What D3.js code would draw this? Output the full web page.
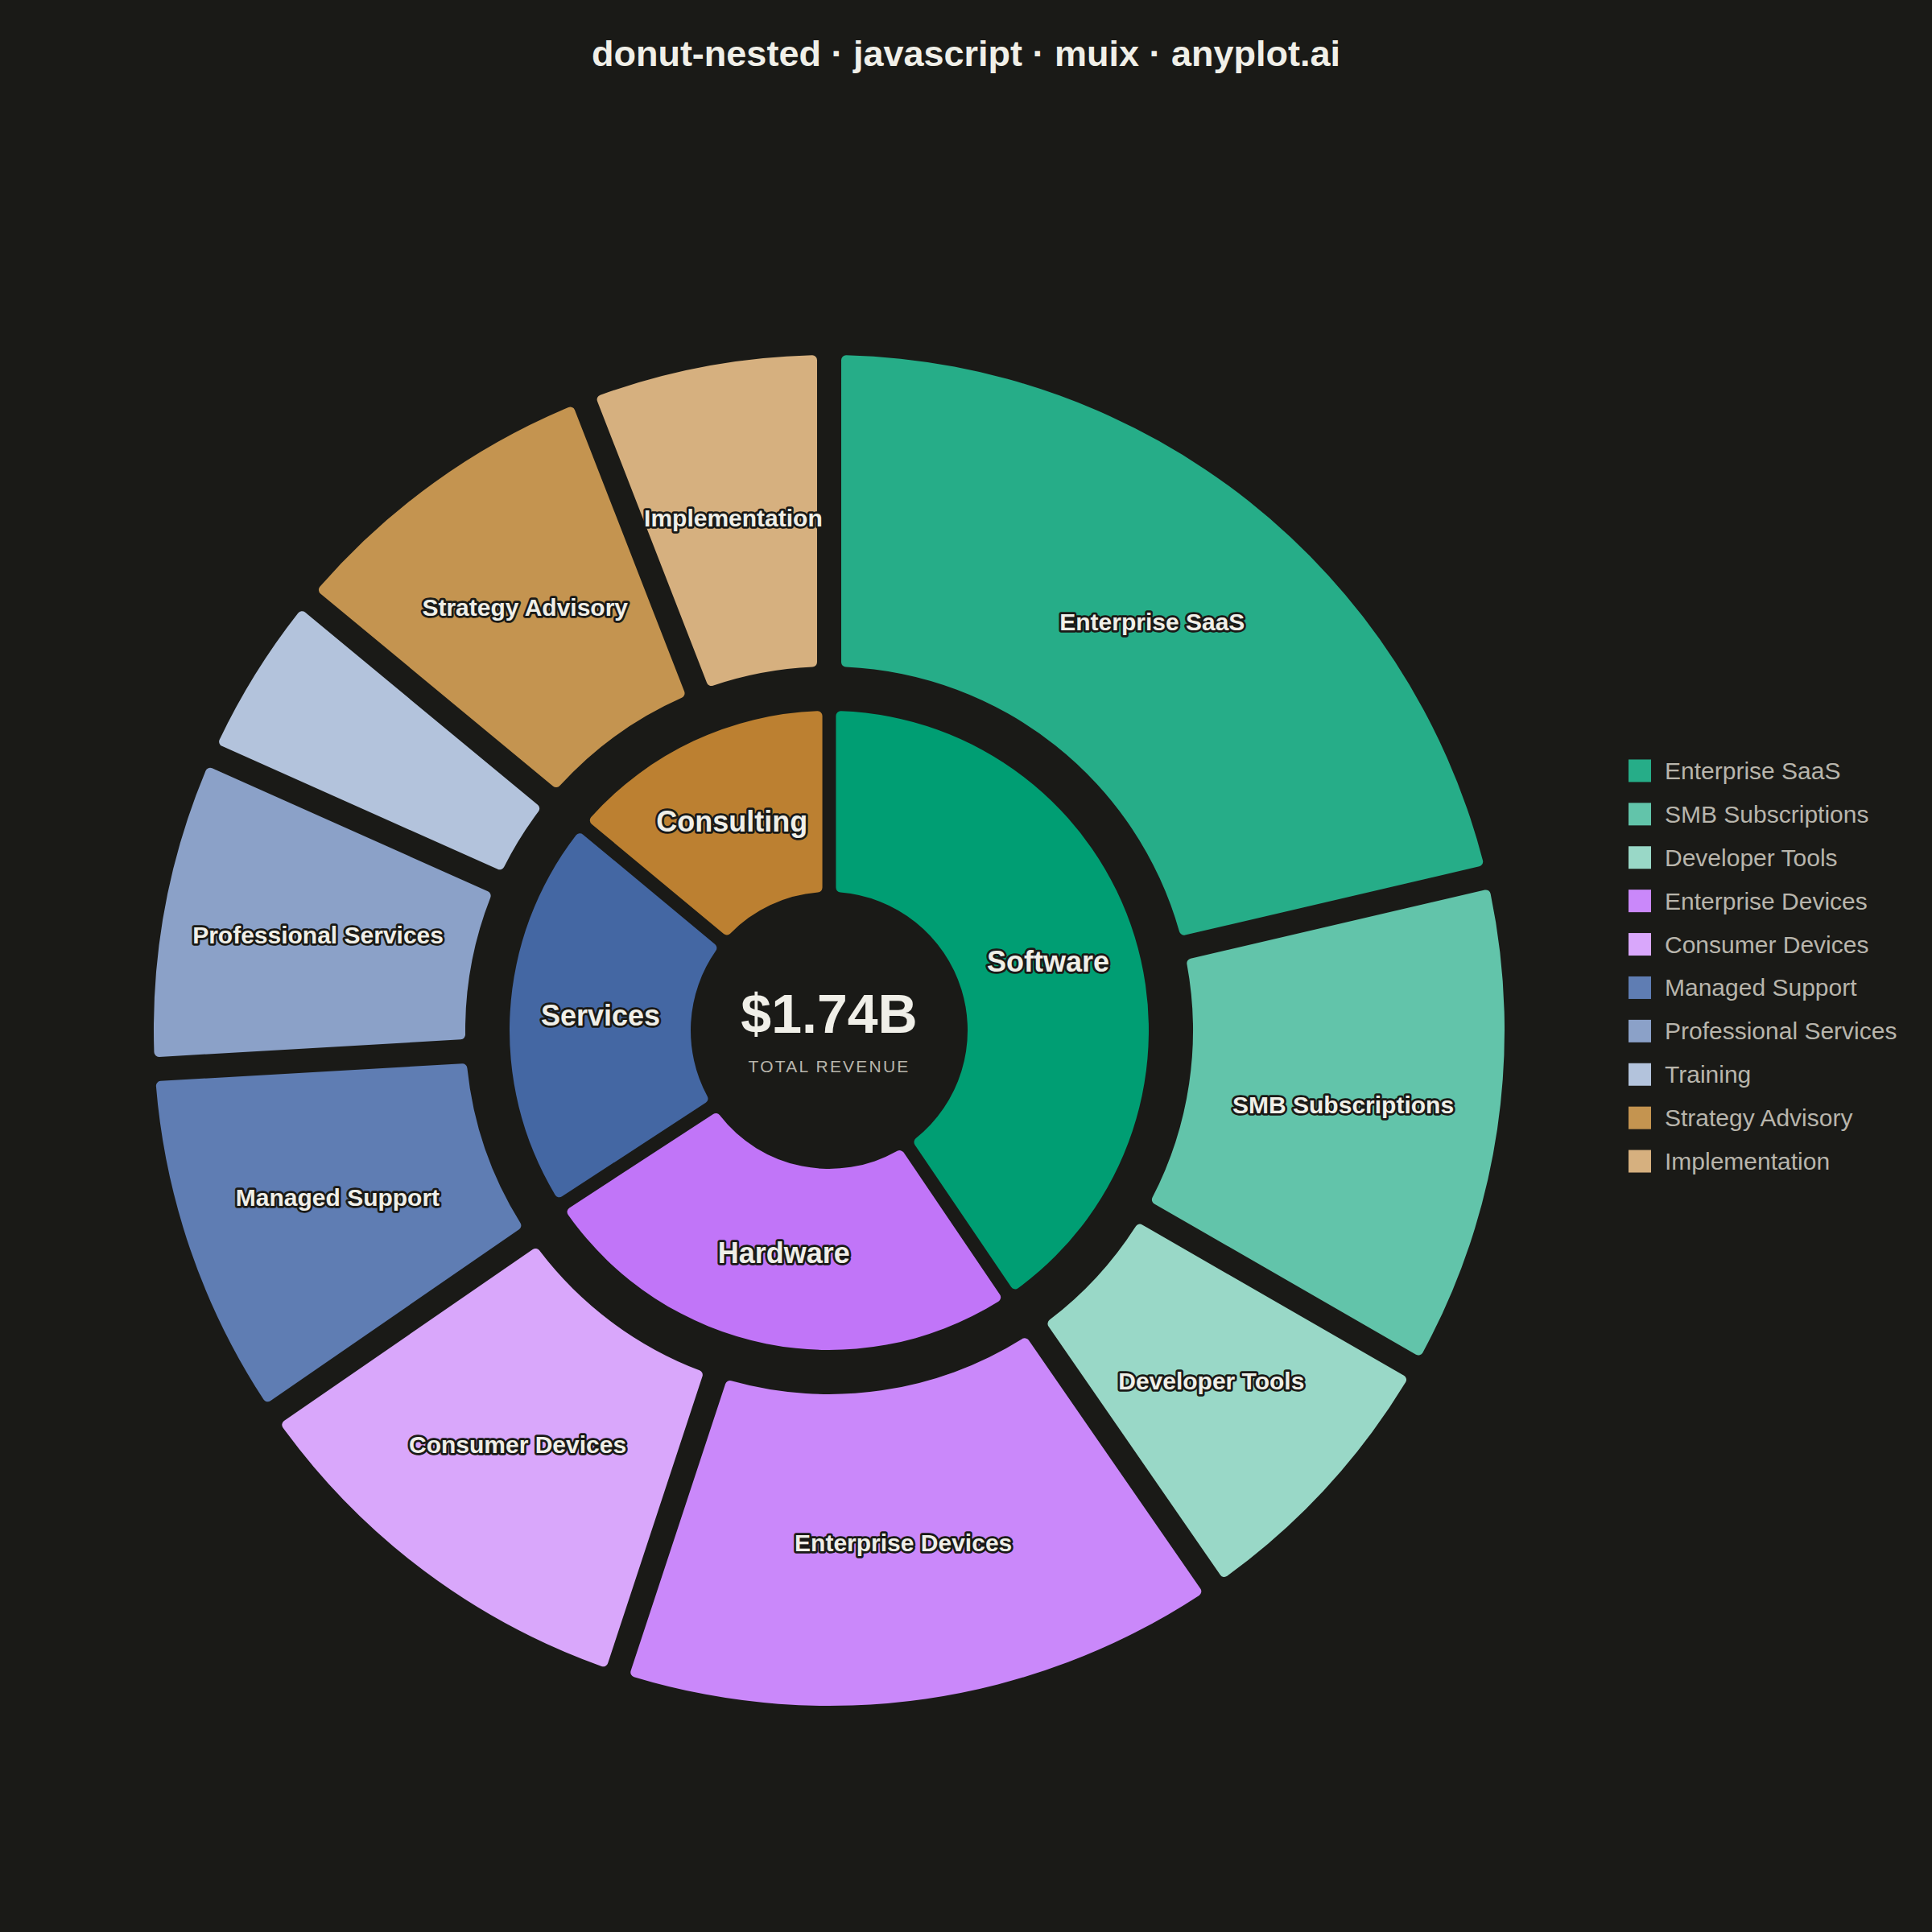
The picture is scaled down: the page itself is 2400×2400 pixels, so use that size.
<!DOCTYPE html>
<html>
<head>
<meta charset="utf-8">
<script src="https://cdn.jsdelivr.net/npm/d3@7"></script>
<style>
    body { margin: 0; background: #1a1a17; }
    svg { display: block; font-family: 'Liberation Sans', Arial, sans-serif; }
</style>
</head>
<body>
<div id="chart"></div>
<script>
// revenue by segment, $M
let groups = ['Software', 'Hardware', 'Services', 'Consulting']
let products = ['Enterprise SaaS', 'SMB Subscriptions', 'Developer Tools',
    'Enterprise Devices', 'Consumer Devices',
    'Managed Support', 'Professional Services', 'Training',
    'Strategy Advisory', 'Implementation']
let productGroup = ['Software', 'Software', 'Software',
    'Hardware', 'Hardware',
    'Services', 'Services', 'Services',
    'Consulting', 'Consulting']
let productRevenue = [382, 210, 120, 260, 180, 150, 130, 70, 139, 99]

let groupColors = ['#009E73', '#C175F8', '#4467A3', '#BC8031']
let productColors = ['#26AD88', '#62C4AA', '#99D8C7', '#CA88FA', '#D9A7FB',
    '#5F7DB3', '#8BA1C8', '#B3C3DC', '#C49450', '#D6B07F']

let width = 2400,
    height = 2400,
    cx = 1030,
    cy = 1280

let bg = '#1a1a17',
    ink = '#F0EFE8',
    muted = '#B8B5AC'

let svg = d3.select('#chart')
    .append('svg')
    .attr('width', width)
    .attr('height', height)
    .attr('viewBox', `0 0 ${width} ${height}`)

svg.append('rect')
    .attr('width', width)
    .attr('height', height)
    .attr('fill', bg)

svg.append('text')
    .attr('x', width / 2)
    .attr('y', 82)
    .attr('text-anchor', 'middle')
    .attr('font-size', 45)
    .attr('font-weight', 'bold')
    .attr('fill', ink)
    .text('donut-nested · javascript · muix · anyplot.ai')

// build rows for both rings
let outerData = products.map((p, i) => ({ name: p, group: productGroup[i], value: productRevenue[i], color: productColors[i] }))
let groupTotals = d3.rollup(outerData, v => d3.sum(v, d => d.value), d => d.group)
let innerData = groups.map((g, i) => ({ name: g, value: groupTotals.get(g), color: groupColors[i] }))
let total = d3.sum(productRevenue)

// padding comes from the pie, so each ring spreads its own gaps
// (that's why inner and outer boundaries are a hair apart)
let innerPie = d3.pie()
    .sort(null)
    .padAngle(0.039)
    .value(d => d.value)

let outerPie = d3.pie()
    .sort(null)
    .padAngle(0.0315)
    .value(d => d.value)

let innerArc = d3.arc()
    .innerRadius(172)
    .outerRadius(397)
    .cornerRadius(6)

let outerArc = d3.arc()
    .innerRadius(452)
    .outerRadius(839)
    .cornerRadius(6)

let innerSlices = innerPie(innerData)
let outerSlices = outerPie(outerData)

let g = svg.append('g')
    .attr('transform', `translate(${cx},${cy})`)

g.selectAll('.inner')
    .data(innerSlices)
    .enter().append('path')
    .attr('class', 'inner')
    .attr('d', innerArc)
    .attr('fill', d => d.data.color)

g.selectAll('.outer')
    .data(outerSlices)
    .enter().append('path')
    .attr('class', 'outer')
    .attr('d', outerArc)
    .attr('fill', d => d.data.color)

// labels sit on the arc centroid, outlined so they read on any fill
function addLabels(sel, arc, size) {
    sel.enter().append('text')
        .attr('transform', d => `translate(${arc.centroid(d)})`)
        .attr('text-anchor', 'middle')
        .attr('dy', '0.28em')
        .attr('font-size', size)
        .attr('font-weight', 'bold')
        .attr('fill', ink)
        .attr('stroke', bg)
        .attr('stroke-width', 5.5)
        .attr('stroke-linejoin', 'round')
        .attr('paint-order', 'stroke')
        .text(d => d.data.name)
}

addLabels(g.selectAll('.inner-label').data(innerSlices), innerArc, 36)
// skip slivers too thin to hold a label (Training)
addLabels(g.selectAll('.outer-label').data(outerSlices.filter(d => d.value / total >= 0.05)), outerArc, 30)

g.append('text')
    .attr('y', 3)
    .attr('text-anchor', 'middle')
    .attr('font-size', 68)
    .attr('font-weight', 'bold')
    .attr('fill', ink)
    .text(`$${(total / 1000).toFixed(2)}B`)

g.append('text')
    .attr('y', 52)
    .attr('text-anchor', 'middle')
    .attr('font-size', 21)
    .attr('letter-spacing', 2.2)
    .attr('fill', muted)
    .text('TOTAL REVENUE')

// legend, outer ring only
let rowH = 53.9
let legend = svg.append('g')
    .attr('transform', `translate(2023,${height / 2 - rowH * (products.length - 1) / 2})`)

let keys = legend.selectAll('.key')
    .data(outerData)
    .enter().append('g')
    .attr('class', 'key')
    .attr('transform', (d, i) => `translate(0,${i * rowH})`)

keys.append('rect')
    .attr('y', -14)
    .attr('width', 28)
    .attr('height', 28)
    .attr('fill', d => d.color)

keys.append('text')
    .attr('x', 45)
    .attr('dy', '0.35em')
    .attr('font-size', 30)
    .attr('fill', muted)
    .text(d => d.name)
</script>
</body>
</html>
